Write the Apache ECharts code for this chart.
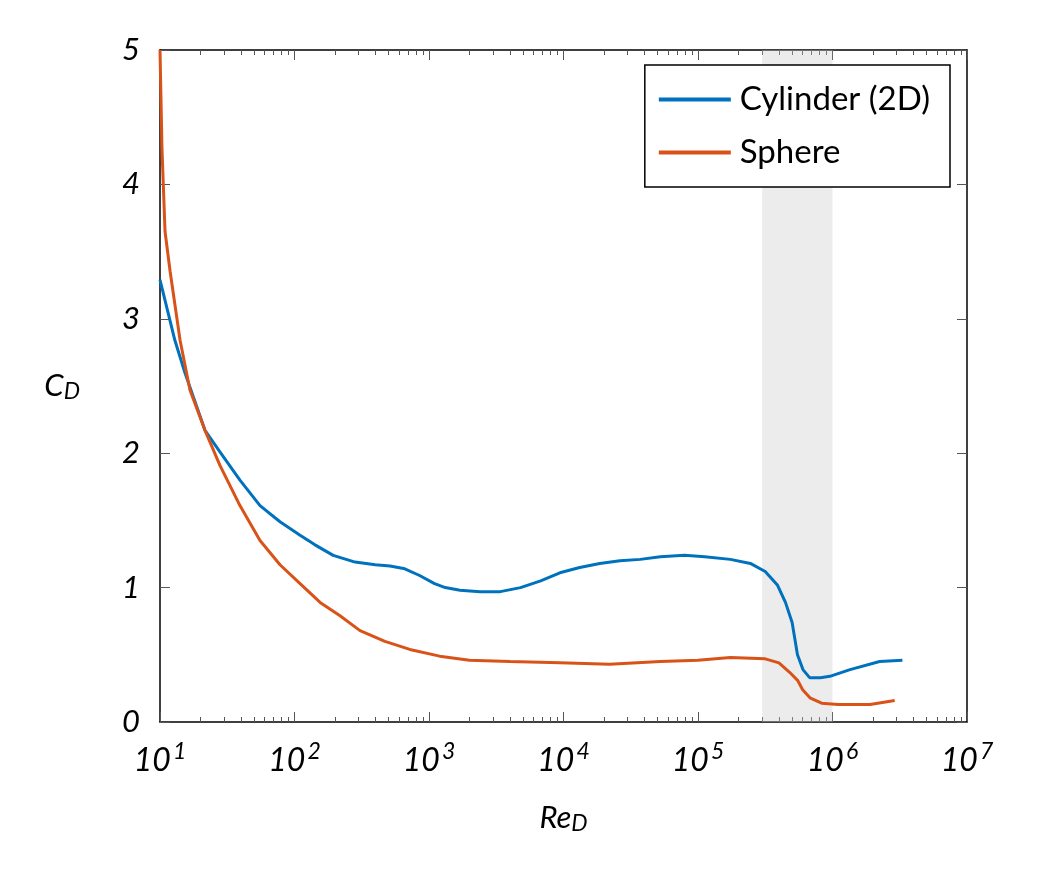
<!DOCTYPE html>
<html><head><meta charset="utf-8">
<script src="https://cdn.jsdelivr.net/npm/echarts@6/dist/echarts.min.js"></script>
<style>html,body{margin:0;background:#fff}#c{width:1041px;height:873px}</style>
</head><body><div id="c"></div>
<script>
const cylRe=[10,12.9,15.3,21.6,27.9,39.3,55.4,78,110,141,194,282,398,513,661,851,1100,1320,1700,2400,3390,4790,6760,9400,13200,18600,26300,37200,52500,79400,112000,174000,245000,316000,389000,447000,501000,549000,603000,676000,813000,955000,1350000,2240000,3310000];
const cylCd=[3.29,2.84,2.60,2.17,2.01,1.80,1.61,1.49,1.39,1.32,1.24,1.19,1.17,1.16,1.14,1.09,1.03,1.00,0.98,0.97,0.97,1.00,1.05,1.11,1.15,1.18,1.20,1.21,1.23,1.24,1.23,1.21,1.18,1.12,1.02,0.89,0.74,0.50,0.39,0.33,0.33,0.34,0.39,0.45,0.46];
const sphRe=[10,10.35,10.9,11.9,14.1,16.7,21.6,27.9,39.3,55.4,78,110,155,218,307,470,720,1200,2000,4000,9400,22000,52500,100000,174000,316000,400000,480000,550000,600000,680000,830000,1100000,1900000,2900000];
const sphCd=[5.0,4.26,3.65,3.35,2.84,2.47,2.17,1.91,1.61,1.35,1.17,1.03,0.89,0.79,0.68,0.60,0.54,0.49,0.46,0.45,0.44,0.43,0.45,0.46,0.48,0.47,0.44,0.37,0.31,0.24,0.18,0.14,0.13,0.13,0.16];
const band=[3e5,1e6];
const font='Lato, "Open Sans", sans-serif';
const ch=echarts.init(document.getElementById('c'));
function xa(show,pos){return {type:'log',logBase:10,min:10,max:1e7,position:pos,
 axisLine:{show:true,onZero:false,lineStyle:{color:'#000',width:1.5}},
 axisTick:{show:true,inside:true,length:10,lineStyle:{color:'#555'}},
 minorTick:{show:true,splitNumber:9,length:5,lineStyle:{color:'#555'}},
 splitLine:{show:false},
 axisLabel:{show:show,margin:18,formatter:v=>'{b|10}{s|'+Math.round(Math.log10(v))+'}',
  rich:{b:{fontFamily:font,fontStyle:'italic',fontSize:32,color:'#000'},s:{fontFamily:font,fontStyle:'italic',fontSize:23,color:'#000',verticalAlign:'bottom',padding:[0,0,18,2]}}},
 name:show?'{i|Re}{s|D}':'',nameLocation:'middle',nameGap:78,
 nameTextStyle:{rich:{i:{fontFamily:font,fontStyle:'italic',fontSize:31,color:'#000'},s:{fontFamily:font,fontStyle:'italic',fontSize:23,color:'#000',verticalAlign:'top',padding:[12,0,0,0]}}}};}
function ya(show,pos){return {type:'value',min:0,max:5,interval:1,position:pos,
 axisLine:{show:true,lineStyle:{color:'#000',width:1.5}},
 axisTick:{show:true,inside:true,length:10,lineStyle:{color:'#555'}},
 splitLine:{show:false},
 axisLabel:{show:show,margin:20,fontFamily:font,fontStyle:'italic',fontSize:31,color:'#000'},
 name:show?'{i|C}{s|D}':'',nameLocation:'middle',nameGap:80,nameRotate:0,
 nameTextStyle:{rich:{i:{fontFamily:font,fontStyle:'italic',fontSize:31,color:'#000'},s:{fontFamily:font,fontStyle:'italic',fontSize:23,color:'#000',verticalAlign:'top',padding:[12,0,0,0]}}}};}
ch.setOption({
 animation:false,
 grid:{left:160,right:74,top:50,bottom:151},
 xAxis:[xa(true,'bottom'),xa(false,'top')],
 yAxis:[ya(true,'left'),ya(false,'right')],
 legend:{right:91,top:65,orient:'vertical',borderColor:'#000',borderWidth:1.5,padding:[18,20,18,14],itemGap:20,itemWidth:72,itemHeight:4,
  icon:'rect',textStyle:{fontFamily:font,fontSize:33,color:'#000',padding:[0,0,0,4]},backgroundColor:'#fff'},
 series:[
  {name:'Cylinder (2D)',type:'line',symbol:'none',data:cylRe.map((r,i)=>[r,cylCd[i]]),lineStyle:{color:'#0072BD',width:3},itemStyle:{color:'#0072BD'},
   markArea:{silent:true,itemStyle:{color:'rgba(200,200,200,0.35)'},data:[[{xAxis:band[0]},{xAxis:band[1]}]]},z:3},
  {name:'Sphere',type:'line',symbol:'none',data:sphRe.map((r,i)=>[r,sphCd[i]]),lineStyle:{color:'#D95319',width:3},itemStyle:{color:'#D95319'},z:3}
 ]
});
</script></body></html>
